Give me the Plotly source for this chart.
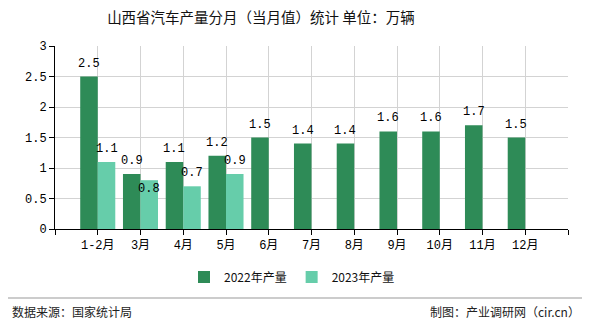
import plotly.graph_objects as go

# ---- data ----
months = ["1-2月", "3月", "4月", "5月", "6月", "7月", "8月", "9月", "10月", "11月", "12月"]
output_2022 = [2.5, 0.9, 1.1, 1.2, 1.5, 1.4, 1.4, 1.6, 1.6, 1.7, 1.5]
output_2023 = [1.1, 0.8, 0.7, 0.9]
series_names = ["2022年产量", "2023年产量"]
y_ticks = [0, 0.5, 1, 1.5, 2, 2.5, 3]
title_text = "山西省汽车产量分月（当月值）统计 单位：万辆"
source_text = "数据来源：国家统计局"
credit_text = "制图：产业调研网（cir.cn）"

# ---- style ----
C2022 = "#2E8B57"
C2023 = "#66CDAA"
CJK = "Noto Sans CJK SC"
MONO = "Liberation Mono, Noto Sans CJK SC"
BARGAP = 0.18
W, H = 590, 330
L, R, T, B = 55, 22, 46, 101

idx = list(range(len(months)))

fig = go.Figure()
fig.add_trace(go.Bar(x=idx, y=output_2022, name=series_names[0], marker_color=C2022,
                     marker_line_width=0))
fig.add_trace(go.Bar(x=idx[:len(output_2023)], y=output_2023, name=series_names[1],
                     marker_color=C2023, marker_line_width=0))

# value labels
bw = (1 - BARGAP) / 2
special_shift = {(1, 1): -9}  # label moved down to avoid overlap
anns = []
for s, vals in enumerate([output_2022, output_2023]):
    off = -bw / 2 if s == 0 else bw / 2
    for i, v in enumerate(vals):
        anns.append(dict(x=i + off, y=v, xref="x", yref="y", text=f"{v:.1f}",
                         showarrow=False, yshift=special_shift.get((s, i), 13),
                         font=dict(family=MONO, size=12, color="#000"),
                         xanchor="center", yanchor="middle"))

plot_w = W - L - R
plot_h = H - T - B
def px(xp):
    return (xp - L) / plot_w
def py(yp):
    return (H - B - yp) / plot_h

anns.append(dict(x=px(10), y=py(311), xref="paper", yref="paper", text=source_text,
                 showarrow=False, xanchor="left", yanchor="middle",
                 font=dict(family=CJK, size=12, color="#222")))
anns.append(dict(x=px(582), y=py(311), xref="paper", yref="paper", text=credit_text,
                 showarrow=False, xanchor="right", yanchor="middle",
                 font=dict(family=CJK, size=12, color="#222")))

fig.update_layout(
    width=W, height=H,
    margin=dict(l=L, r=R, t=T, b=B, pad=0),
    paper_bgcolor="white", plot_bgcolor="white",
    barmode="group", bargap=BARGAP, bargroupgap=0,
    title=dict(text=title_text, x=261 / W, xref="container", xanchor="center",
               y=1 - 18 / H, yref="container", yanchor="middle",
               font=dict(family=CJK, size=14.5, color="#111")),
    legend=dict(orientation="h", x=px(292), y=py(277), xanchor="center", yanchor="middle",
                font=dict(family=CJK, size=12, color="#111"), itemwidth=30,
                bgcolor="rgba(0,0,0,0)"),
    annotations=anns,
    shapes=[dict(type="line", xref="paper", yref="paper", x0=px(8), x1=px(582),
                 y0=py(298), y1=py(298), line=dict(color="#999", width=1))],
    xaxis=dict(range=[-1, len(months)], tickmode="array",
               tickvals=list(range(-1, len(months) + 1)),
               ticktext=[""] + months + [""],
               showgrid=True, gridcolor="#d3d3d3", gridwidth=1,
               showline=True, linecolor="#000", linewidth=1,
               ticks="outside", ticklen=5, tickcolor="#000",
               tickfont=dict(family=MONO, size=12, color="#000"), zeroline=False),
    yaxis=dict(range=[0, 3], tickmode="array", tickvals=y_ticks,
               ticktext=[f"{v:g}" for v in y_ticks],
               showgrid=True, gridcolor="#d3d3d3", gridwidth=1,
               showline=True, linecolor="#000", linewidth=1,
               ticks="outside", ticklen=5, tickcolor="#000",
               tickfont=dict(family=MONO, size=12, color="#000"), zeroline=False),
)

fig.write_html("out.html")
